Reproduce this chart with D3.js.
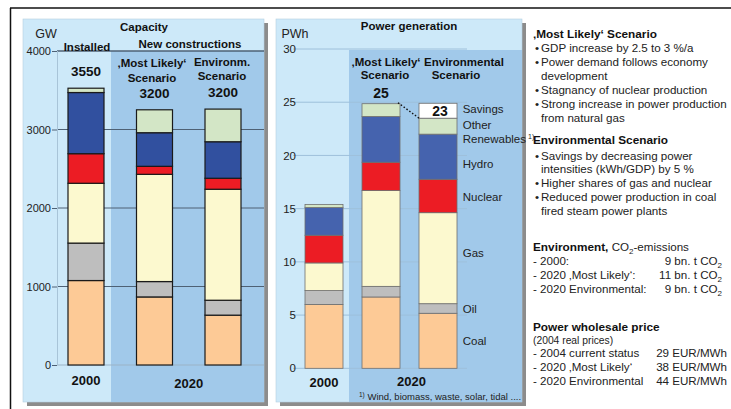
<!DOCTYPE html>
<html><head><meta charset="utf-8">
<script src="https://cdn.jsdelivr.net/npm/d3@7"></script>
<style>
html,body{margin:0;padding:0;background:#fff;}
svg{display:block;font-family:"Liberation Sans",Arial,sans-serif;}
</style></head>
<body>
<svg id="c" width="731" height="409"></svg>
<script>
// ---------- DATA ----------
const capCategories = ["2000", "2020 Most Likely", "2020 Environm."];
const capTotalLabels = ["3550", "3200", "3200"];
const capCoal    = [1076, 867, 635];
const capOil     = [477, 196, 190];
const capGas     = [762, 1366, 1414];
const capNuclear = [377, 102, 140];
const capHydro   = [779, 428, 465];
const capOther   = [55, 292, 416];
const capTicks   = [0, 1000, 2000, 3000, 4000];

const genCategories = ["2000", "2020 Most Likely", "2020 Environmental"];
const genTotalLabels = ["", "25", "23"];
const genCoal    = [6.0, 6.7, 5.17];
const genOil     = [1.3, 1.0, 0.9];
const genGas     = [2.6, 9.0, 8.55];
const genNuclear = [2.6, 2.66, 3.14];
const genHydro   = [2.6, 4.3, 4.24];
const genOther   = [0.3, 1.2, 1.5];
const genSavings = [0, 0, 1.4];
const genTicks   = [0, 5, 10, 15, 20, 25, 30];

const seriesKeys = ["Coal", "Oil", "Gas", "Nuclear", "Hydro", "Other", "Savings"];

// ---------- SETUP ----------
const svg = d3.select("#c");
const FONT = "Liberation Sans, Arial, sans-serif";
const colors = {Coal:"#fdca96", Oil:"#bebebe", Gas:"#fcf9cf", Nuclear:"#ec1c24",
  Hydro:"#31509f", Other:"#d3e6c6", Savings:"#ffffff"};
const lightBlue = "#cde9f9", darkBlue = "#a1c9ea", shadow = "#8c8c8c";

// outer frame
svg.append("line").attr("x1",10).attr("x2",731).attr("y1",8).attr("y2",8).attr("stroke","#111").attr("stroke-width",1.5);
svg.append("line").attr("x1",10.5).attr("x2",10.5).attr("y1",8).attr("y2",409).attr("stroke","#111").attr("stroke-width",1.5);

function panel(x0, y0, x1, y1, dx0, dy0) {
  svg.append("rect").attr("x",x0+4).attr("y",y0+4).attr("width",x1-x0).attr("height",y1-y0).attr("fill",shadow);
  svg.append("rect").attr("x",x0).attr("y",y0).attr("width",x1-x0).attr("height",y1-y0).attr("fill",lightBlue)
     .attr("stroke","#b5cfdf").attr("stroke-width",0.6);
  svg.append("rect").attr("x",dx0).attr("y",dy0).attr("width",x1-dx0).attr("height",y1-dy0).attr("fill",darkBlue);
}
panel(23, 19, 264, 402, 111, 51);
panel(276, 19, 522, 402, 349, 50);

function txt(x, y, s, opt={}) {
  const t = svg.append("text").attr("x",x).attr("y",y).attr("font-family",FONT)
    .attr("font-size",opt.size||12).attr("font-weight",opt.bold?"bold":"normal")
    .attr("text-anchor",opt.anchor||"start").attr("fill",opt.fill||"#111").text(s);
  return t;
}

// ---------- LEFT: CAPACITY ----------
const yCap = d3.scaleLinear().domain([0,4000]).range([365,51]);
const xCap = d3.scalePoint().domain(capCategories).range([86,223]);
const capBarW = 36;

const capRows = capCategories.map((c,i)=>({cat:c, Coal:capCoal[i], Oil:capOil[i], Gas:capGas[i],
  Nuclear:capNuclear[i], Hydro:capHydro[i], Other:capOther[i], Savings:0}));
const capStack = d3.stack().keys(seriesKeys)(capRows);

svg.append("g").selectAll("line").data(capTicks).join("line")
  .attr("x1",57).attr("x2",264).attr("y1",d=>yCap(d)).attr("y2",d=>yCap(d))
  .attr("stroke",d=>d===0?"#9bb3c6":"#4e6175").attr("stroke-width",d=>d===4000?1.4:1);
svg.append("line").attr("x1",57.5).attr("x2",57.5).attr("y1",51).attr("y2",365).attr("stroke","#a8c4d8").attr("stroke-width",1);

const capAxis = svg.append("g").attr("transform","translate(57,0)")
  .call(d3.axisLeft(yCap).tickValues(capTicks).tickSize(5).tickPadding(1).tickFormat(d3.format("d")));
capAxis.select(".domain").remove();
capAxis.selectAll(".tick line").attr("stroke","#4e6175");
capAxis.selectAll("text").attr("font-size",11).attr("fill","#222").attr("font-family",FONT);

svg.append("g").selectAll("g").data(capStack).join("g")
  .attr("fill",d=>colors[d.key])
  .selectAll("rect").data(d=>d.filter(s=>s[1]-s[0]>0)).join("rect")
  .attr("x",d=>xCap(d.data.cat)-capBarW/2).attr("width",capBarW)
  .attr("y",d=>yCap(d[1])).attr("height",d=>yCap(d[0])-yCap(d[1]))
  .attr("stroke","#1a1a1a").attr("stroke-width",1.2);

capCategories.forEach((c,i)=>{
  const tot = d3.sum(capStack, s=>s[i][1]-s[i][0]);
  txt(xCap(c), yCap(tot)-12, capTotalLabels[i], {size:13.5, bold:true, anchor:"middle"});
});

txt(46, 38, "GW", {size:12.5, anchor:"middle", fill:"#222"});
txt(144, 31, "Capacity", {size:11.5, bold:true, anchor:"middle"});
txt(87, 50.5, "Installed", {size:11.5, bold:true, anchor:"middle"});
txt(190, 48, "New constructions", {size:11.5, bold:true, anchor:"middle"});
txt(152, 67, "\u201AMost Likely\u2018", {size:11.5, bold:true, anchor:"middle"});
txt(152, 82, "Scenario", {size:11.5, bold:true, anchor:"middle"});
txt(222, 65.5, "Environm.", {size:11.5, bold:true, anchor:"middle"});
txt(222, 80, "Scenario", {size:11.5, bold:true, anchor:"middle"});
txt(xCap(capCategories[0]), 385, "2000", {size:13, bold:true, anchor:"middle"});
txt((xCap(capCategories[1])+xCap(capCategories[2]))/2, 388, "2020", {size:13, bold:true, anchor:"middle"});

// ---------- RIGHT: GENERATION ----------
const yGen = d3.scaleLinear().domain([0,30]).range([368.3,49]);
const xGen = d3.scalePoint().domain(genCategories).range([324,438]);
const genBarW = 38;

const genRows = genCategories.map((c,i)=>({cat:c, Coal:genCoal[i], Oil:genOil[i], Gas:genGas[i],
  Nuclear:genNuclear[i], Hydro:genHydro[i], Other:genOther[i], Savings:genSavings[i]}));
const genStack = d3.stack().keys(seriesKeys)(genRows);

svg.append("g").selectAll("line").data(genTicks).join("line")
  .attr("x1",293).attr("x2",467).attr("y1",d=>yGen(d)).attr("y2",d=>yGen(d))
  .attr("stroke","#9ec0db").attr("stroke-width",1);

const genAxis = svg.append("g").attr("transform","translate(298,0)")
  .call(d3.axisLeft(yGen).tickValues(genTicks).tickSize(0).tickPadding(2));
genAxis.select(".domain").remove();
genAxis.selectAll("text").attr("font-size",11.5).attr("fill","#222").attr("font-family",FONT);

const genColors = Object.assign({}, colors, {Hydro:"#4563ae"});
svg.append("g").selectAll("g").data(genStack).join("g")
  .attr("fill",d=>genColors[d.key])
  .selectAll("rect").data(d=>d.filter(s=>s[1]-s[0]>0)).join("rect")
  .attr("x",d=>xGen(d.data.cat)-genBarW/2).attr("width",genBarW)
  .attr("y",d=>yGen(d[1])).attr("height",d=>yGen(d[0])-yGen(d[1]))
  .attr("stroke","#6f6f6f").attr("stroke-width",0.8);

const genTot = genCategories.map((c,i)=>d3.sum(genStack, s=>s[i][1]-s[i][0]));
txt(xGen(genCategories[1]), yGen(genTot[1])-6, genTotalLabels[1], {size:14, bold:true, anchor:"middle"});
const envProd = genTot[2]-genSavings[2];
txt(xGen(genCategories[2])+2, (yGen(genTot[2])+yGen(envProd))/2+5, genTotalLabels[2], {size:14, bold:true, anchor:"middle"});

svg.append("line")
  .attr("x1",xGen(genCategories[1])+genBarW/2-2).attr("y1",yGen(genTot[1])-1)
  .attr("x2",xGen(genCategories[2])-genBarW/2).attr("y2",yGen(envProd))
  .attr("stroke","#111").attr("stroke-width",1.4).attr("stroke-dasharray","1.5,2");

const envIdx = 2;
const mid = k => { const s = genStack.find(g=>g.key===k)[envIdx]; return (yGen(s[0])+yGen(s[1]))/2; };
const lx = 462.7;
txt(lx, mid("Savings")+2, "Savings", {size:11.5, fill:"#222"});
txt(lx, mid("Other")+2.5, "Other", {size:11.5, fill:"#222"});
const ren = txt(lx, mid("Other")+16.5, "Renewables", {size:11.5, fill:"#222"});
ren.append("tspan").attr("font-size",7).attr("dy",-4).attr("dx",2).text("1)");
txt(lx, mid("Hydro")+11, "Hydro", {size:11.5, fill:"#222"});
txt(lx, mid("Nuclear")+5, "Nuclear", {size:11.5, fill:"#222"});
txt(lx, mid("Gas")-1.5, "Gas", {size:11.5, fill:"#222"});
txt(lx, mid("Oil")+4.5, "Oil", {size:11.5, fill:"#222"});
txt(lx, mid("Coal")+4, "Coal", {size:11.5, fill:"#222"});

txt(295, 38, "PWh", {size:12.5, anchor:"middle", fill:"#222"});
txt(409, 30, "Power generation", {size:11.5, bold:true, anchor:"middle"});
txt(386, 65.5, "\u201AMost Likely\u2018", {size:11.5, bold:true, anchor:"middle"});
txt(385, 78.5, "Scenario", {size:11.5, bold:true, anchor:"middle"});
txt(464, 65.5, "Environmental", {size:11.5, bold:true, anchor:"middle"});
txt(456, 78.5, "Scenario", {size:11.5, bold:true, anchor:"middle"});
txt(xGen(genCategories[0]), 387, "2000", {size:13, bold:true, anchor:"middle"});
txt((xGen(genCategories[1])+xGen(genCategories[2]))/2+2, 386, "2020", {size:13, bold:true, anchor:"middle"});
const fn = svg.append("text").attr("x",359).attr("y",400).attr("font-size",9.5).attr("fill","#222").attr("font-family",FONT);
fn.append("tspan").attr("font-size",6.5).attr("dy",-3).text("1)");
fn.append("tspan").attr("dy",3).text(" Wind, biomass, waste, solar, tidal ....");

// ---------- RIGHT TEXT BLOCK ----------
const tx = 533, bx = 535, ix = 541, fs = 11.6, fb = 11.8;
txt(tx, 38, "\u201AMost Likely\u2018 Scenario", {size:fb, bold:true});
const bullets1 = [[52,"GDP increase by 2.5 to 3 %/a",true],[66,"Power demand follows economy",true],[79.5,"development",false],
  [94,"Stagnancy of nuclear production",true],[107.5,"Strong increase in power production",true],[121.5,"from natural gas",false]];
bullets1.forEach(([y,s,b])=>{ if(b) txt(bx,y,"\u2022",{size:fs,fill:"#222"}); txt(ix,y,s,{size:fs,fill:"#222"}); });
txt(tx, 144, "Environmental Scenario", {size:fb, bold:true});
const bullets2 = [[159.5,"Savings by decreasing power",true],[173,"intensities (kWh/GDP) by 5 %",false],
  [187,"Higher shares of gas and nuclear",true],[201,"Reduced power production in coal",true],[215,"fired steam power plants",false]];
bullets2.forEach(([y,s,b])=>{ if(b) txt(bx,y,"\u2022",{size:fs,fill:"#222"}); txt(ix,y,s,{size:fs,fill:"#222"}); });

const env = svg.append("text").attr("x",tx).attr("y",251).attr("font-size",fb).attr("fill","#111").attr("font-family",FONT);
env.append("tspan").attr("font-weight","bold").text("Environment, ");
env.append("tspan").attr("font-size",fs).attr("fill","#222").text("CO");
env.append("tspan").attr("font-size",8).attr("dy",3).attr("fill","#222").text("2");
env.append("tspan").attr("font-size",fs).attr("dy",-3).attr("fill","#222").text("-emissions");

const co2Labels = ["- 2000:", "- 2020 \u201AMost Likely\u2018:", "- 2020 Environmental:"];
const co2Values = ["9 bn. t CO", "11 bn. t CO", "9 bn. t CO"];
const co2Y = [265, 279, 293];
co2Labels.forEach((l,i)=>{
  txt(tx, co2Y[i], l, {size:fs, fill:"#222"});
  const t = svg.append("text").attr("x",722).attr("y",co2Y[i]).attr("text-anchor","end").attr("font-size",fs).attr("fill","#222").attr("font-family",FONT);
  t.append("tspan").text(co2Values[i]);
  t.append("tspan").attr("font-size",8).attr("dy",3).text("2");
});

txt(tx, 331, "Power wholesale price", {size:fb, bold:true});
txt(tx, 343.5, "(2004 real prices)", {size:10.3, fill:"#222"});
const priceLabels = ["- 2004 current status", "- 2020 \u201AMost Likely\u2018", "- 2020 Environmental"];
const priceValues = ["29 EUR/MWh", "38 EUR/MWh", "44 EUR/MWh"];
const priceY = [357, 371, 385];
priceLabels.forEach((l,i)=>{
  txt(tx, priceY[i], l, {size:fs, fill:"#222"});
  txt(727, priceY[i], priceValues[i], {size:fs, fill:"#222", anchor:"end"});
});
</script>
</body></html>
